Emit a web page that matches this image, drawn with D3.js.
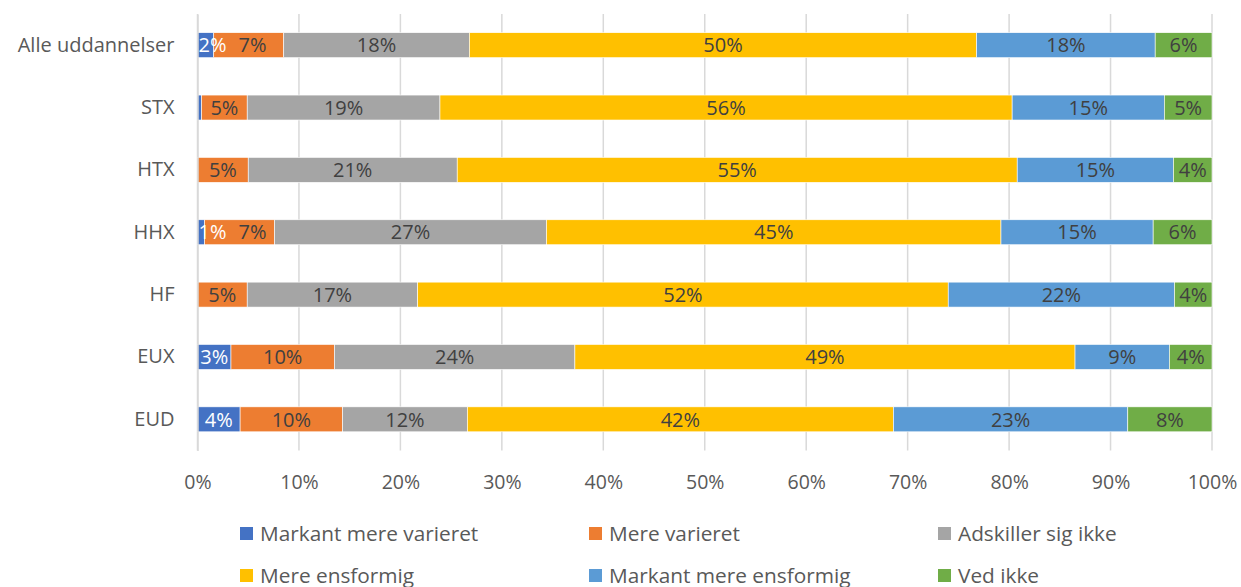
<!DOCTYPE html>
<html><head><meta charset="utf-8">
<script src="https://cdn.jsdelivr.net/npm/d3@7"></script>
<style>body{margin:0;background:#fff;}svg{display:block;}text{font-family:"Open Sans","Noto Sans",sans-serif;}</style>
</head><body><svg id="c" width="1241" height="587"></svg>
<script>
const categories = ["Alle uddannelser","STX","HTX","HHX","HF","EUX","EUD"];
const seriesNames = ["Markant mere varieret","Mere varieret","Adskiller sig ikke","Mere ensformig","Markant mere ensformig","Ved ikke"];
const markantMereVarieret = [1.6, 0.4, 0.0, 0.7, 0.0, 3.3, 4.2];
const mereVarieret        = [6.9, 4.5, 5.0, 6.9, 4.9, 10.2, 10.1];
const adskillerSigIkke    = [18.3, 19.0, 20.6, 26.8, 16.8, 23.7, 12.3];
const mereEnsformig       = [50.0, 56.4, 55.2, 44.8, 52.3, 49.3, 42.0];
const markantMereEnsformig= [17.6, 15.0, 15.4, 15.0, 22.3, 9.3, 23.1];
const vedIkke             = [5.6, 4.7, 3.8, 5.8, 3.7, 4.2, 8.3];
const xTicks = [0,10,20,30,40,50,60,70,80,90,100];
const colors = ["#4472C4","#ED7D31","#A5A5A5","#FFC000","#5B9BD5","#70AD47"];

const seriesValues = [markantMereVarieret, mereVarieret, adskillerSigIkke, mereEnsformig, markantMereEnsformig, vedIkke];
const rows = categories.map((c,i)=>{const o={cat:c}; seriesNames.forEach((s,j)=>o[s]=seriesValues[j][i]); return o;});
const stack = d3.stack().keys(seriesNames)(rows);

const svg = d3.select("#c");
const x = d3.scaleLinear().domain([0,100]).range([197.5,1212]);
const y = d3.scaleBand().domain(categories).range([14,450.5]).paddingInner(0.6).paddingOuter(0.3);

// gridlines
svg.append("g").selectAll("line").data(xTicks).join("line")
  .attr("x1",d=>x(d)).attr("x2",d=>x(d)).attr("y1",14).attr("y2",450.5)
  .attr("stroke","#d9d9d9").attr("stroke-width",1.5);

// bars
const g = svg.append("g");
stack.forEach((layer,j)=>{
  g.append("g").attr("fill",colors[j]).selectAll("rect").data(layer).join("rect")
    .attr("x",d=>x(d[0])).attr("width",d=>Math.max(0,x(d[1])-x(d[0])))
    .attr("y",d=>y(d.data.cat)).attr("height",y.bandwidth())
    .attr("stroke","#fff").attr("stroke-width",0.6);
});
// labels (kept inside the plot area and clear of the previous label in the row)
const lastRight = {};
stack.forEach((layer,j)=>{
  g.append("g").selectAll("text").data(layer.filter(d=>d[1]-d[0]>=0.5)).join("text")
    .attr("y",d=>y(d.data.cat)+y.bandwidth()/2)
    .attr("dy","0.36em").attr("text-anchor","middle")
    .style("font-size","20px").attr("fill",j===0?"#ffffff":"#404040")
    .text(d=>Math.round(d[1]-d[0])+"%")
    .attr("x",function(d){
      const hw = this.getComputedTextLength()/2;
      let c = Math.max(x((d[0]+d[1])/2), x.range()[0] + hw + 1);
      const prev = lastRight[d.data.cat];
      if (prev !== undefined && c - hw < prev + 12) c = prev + 12 + hw;
      lastRight[d.data.cat] = c + hw;
      return c;
    });
});

// x axis labels
const xa = svg.append("g").attr("transform","translate(0,450.5)").call(d3.axisBottom(x).tickValues(xTicks).tickFormat(d=>d+"%").tickSize(0).tickPadding(25));
xa.select(".domain").remove();
xa.selectAll("text").style("font-size","19.5px").attr("fill","#595959").style("font-family","\"Open Sans\",sans-serif");

// y axis labels
const ya = svg.append("g").attr("transform","translate(197.5,0)").call(d3.axisLeft(y).tickSize(0).tickPadding(23));
ya.select(".domain").attr("stroke","#d9d9d9").attr("stroke-width",1.5);
ya.selectAll("text").style("font-size","20px").attr("fill","#595959").style("font-family","\"Open Sans\",sans-serif");

// legend
const legX = [240, 589, 938];
const legY = [533.5, 575.5];
const lg = svg.append("g");
seriesNames.forEach((s,i)=>{
  const lx = legX[i%3], ly = legY[Math.floor(i/3)];
  lg.append("rect").attr("x",lx).attr("y",ly-6.5).attr("width",13).attr("height",13).attr("fill",colors[i]);
  lg.append("text").attr("x",lx+20).attr("y",ly).attr("dy","0.36em").style("font-size","20.8px").attr("fill","#595959").text(s);
});
</script></body></html>
